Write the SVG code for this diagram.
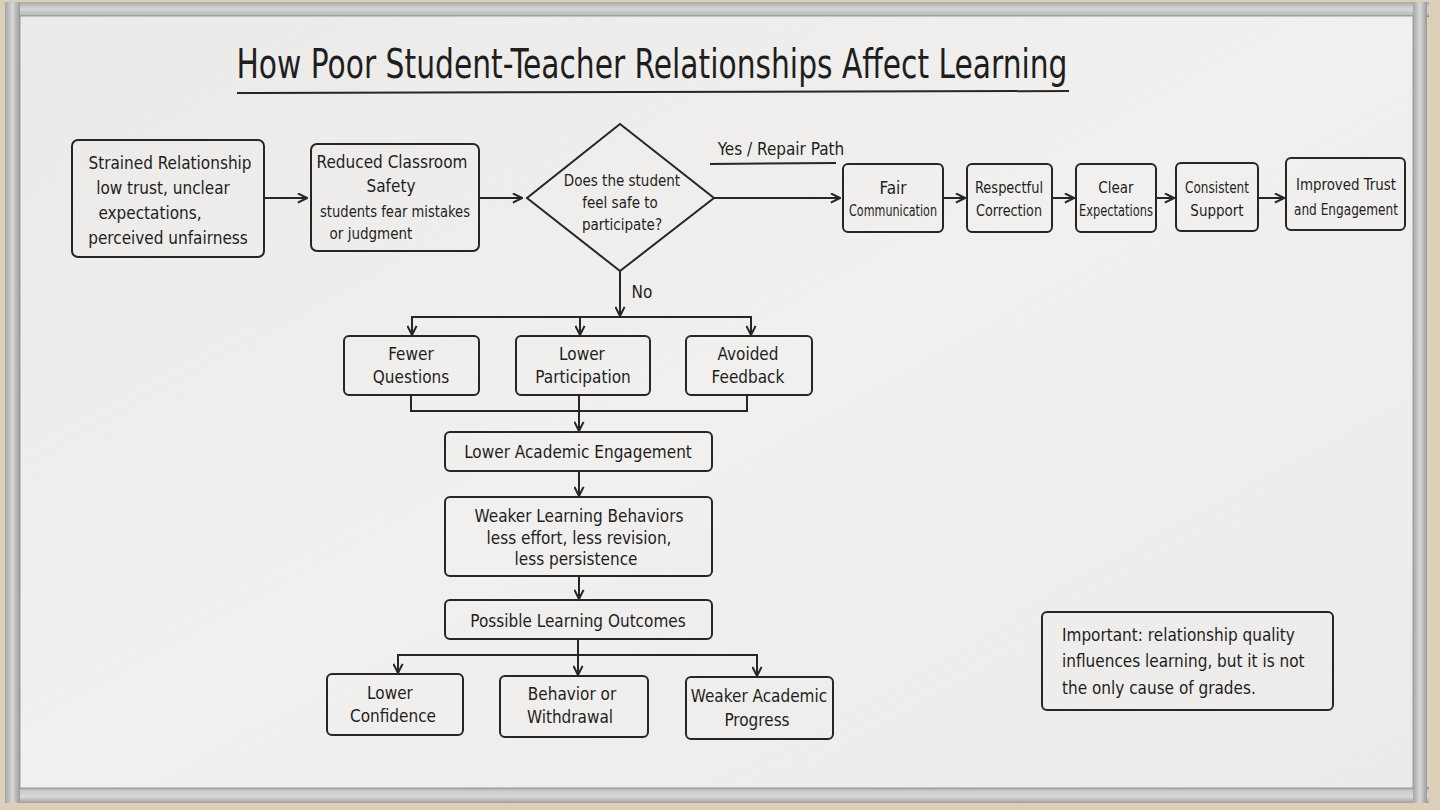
<svg xmlns="http://www.w3.org/2000/svg" width="1440" height="810" viewBox="0 0 1440 810">
<defs>
<marker id="ah2" viewBox="0 0 12 12" refX="11" refY="6" markerWidth="11" markerHeight="11" orient="auto" markerUnits="userSpaceOnUse">
<path d="M1,1 L11,6 L1,11" fill="none" stroke="#262626" stroke-width="2.2"/>
</marker>
<linearGradient id="frameH" x1="0" y1="0" x2="0" y2="1">
<stop offset="0" stop-color="#a8a8a8"/><stop offset="0.45" stop-color="#d6d6d6"/><stop offset="0.85" stop-color="#bdbdbd"/><stop offset="1" stop-color="#7a7a7a"/>
</linearGradient>
<linearGradient id="frameB" x1="0" y1="0" x2="0" y2="1">
<stop offset="0" stop-color="#8a8a8a"/><stop offset="0.2" stop-color="#c8c8c8"/><stop offset="0.6" stop-color="#d9d9d9"/><stop offset="1" stop-color="#a0a0a0"/>
</linearGradient>
<linearGradient id="frameV" x1="0" y1="0" x2="1" y2="0">
<stop offset="0" stop-color="#a5a5a5"/><stop offset="0.5" stop-color="#d8d8d8"/><stop offset="1" stop-color="#9a9a9a"/>
</linearGradient>
<linearGradient id="board" x1="0" y1="0" x2="1" y2="1">
<stop offset="0" stop-color="#ebeae8"/><stop offset="0.5" stop-color="#f1f0ee"/><stop offset="1" stop-color="#ecebe9"/>
</linearGradient>
</defs>
<style>
.box{fill:none;stroke:#262626;stroke-width:2}
.ln{fill:none;stroke:#262626;stroke-width:2}
text{font-family:"DejaVu Sans Condensed","Liberation Sans Narrow","Liberation Sans",sans-serif;fill:#1e1e1e;text-anchor:middle}
.t{font-size:17px}
.s{font-size:15px}
.l{text-anchor:start}
</style>
<rect width="1440" height="810" fill="#dccfb9"/>
<rect x="5" y="2" width="1424" height="15" fill="url(#frameH)"/>
<rect x="5" y="787" width="1424" height="16" fill="url(#frameB)"/>
<rect x="5" y="2" width="15" height="801" fill="url(#frameV)"/>
<rect x="1413" y="2" width="14" height="801" fill="url(#frameV)"/>
<rect x="20" y="16" width="1393" height="772" fill="url(#board)" stroke="#9a9a9a" stroke-width="1"/>

<g id="title">
<text x="652" y="78" font-size="40" textLength="831" lengthAdjust="spacingAndGlyphs">How Poor Student-Teacher Relationships Affect Learning</text>
<path class="ln" d="M237,93 L1069,91" stroke-width="2.2"/>
</g>

<g id="connectors">
<path class="ln" d="M264,198 L307,198" marker-end="url(#ah2)"/>
<path class="ln" d="M479,198 L522,198" marker-end="url(#ah2)"/>
<path class="ln" d="M714,198 L840,198" marker-end="url(#ah2)"/>
<path class="ln" d="M943,198 L965,198" marker-end="url(#ah2)"/>
<path class="ln" d="M1052,198 L1074,198" marker-end="url(#ah2)"/>
<path class="ln" d="M1156,198 L1174,198" marker-end="url(#ah2)"/>
<path class="ln" d="M1258,198 L1284,198" marker-end="url(#ah2)"/>
<path class="ln" d="M620,271 L620,316" marker-end="url(#ah2)"/>
<path class="ln" d="M412,335 L412,317 L751,317 L751,335"/>
<path class="ln" d="M412,318 L412,335" marker-end="url(#ah2)"/>
<path class="ln" d="M580,317 L580,335" marker-end="url(#ah2)"/>
<path class="ln" d="M751,318 L751,335" marker-end="url(#ah2)"/>
<path class="ln" d="M411,395 L411,411 L747,411 L747,396"/>
<path class="ln" d="M579,395 L579,431" marker-end="url(#ah2)"/>
<path class="ln" d="M579,471 L579,496" marker-end="url(#ah2)"/>
<path class="ln" d="M579,576 L579,599" marker-end="url(#ah2)"/>
<path class="ln" d="M578,639 L578,675" marker-end="url(#ah2)"/>
<path class="ln" d="M398,673 L398,655 L757,655 L757,676"/>
<path class="ln" d="M398,656 L398,673" marker-end="url(#ah2)"/>
<path class="ln" d="M757,656 L757,676" marker-end="url(#ah2)"/>
</g>

<g id="yes-label">
<text class="t" x="781" y="155">Yes / Repair Path</text>
<path class="ln" d="M710,164 L836,163"/>
</g>
<g id="no-label">
<text class="t" x="642" y="298">No</text>
</g>

<g id="n-strained">
<rect class="box" x="72" y="140" width="192" height="117" rx="6"/>
<text class="t" x="170" y="169">Strained Relationship</text>
<text class="t" x="163" y="194">low trust, unclear</text>
<text class="t" x="150" y="219">expectations,</text>
<text class="t" x="168" y="244">perceived unfairness</text>
</g>
<g id="n-safety">
<rect class="box" x="311" y="144" width="168" height="107" rx="6"/>
<text class="t" x="392" y="168">Reduced Classroom</text>
<text class="t" x="391" y="192">Safety</text>
<text class="s" x="395" y="217" textLength="150" lengthAdjust="spacingAndGlyphs">students fear mistakes</text>
<text class="s" x="371" y="239">or judgment</text>
</g>
<g id="n-decision">
<polygon class="box" points="620,124 714,198 620,271 527,198"/>
<text class="s" x="622" y="186">Does the student</text>
<text class="s" x="620" y="208">feel safe to</text>
<text class="s" x="622" y="230">participate?</text>
</g>
<g id="n-fair">
<rect class="box" x="843" y="164" width="100" height="68" rx="5"/>
<text class="t" x="893" y="194">Fair</text>
<text class="s" x="893" y="216" textLength="88" lengthAdjust="spacingAndGlyphs">Communication</text>
</g>
<g id="n-respect">
<rect class="box" x="967" y="164" width="85" height="68" rx="5"/>
<text class="s" x="1009" y="193" textLength="68" lengthAdjust="spacingAndGlyphs">Respectful</text>
<text class="s" x="1009" y="216" textLength="66" lengthAdjust="spacingAndGlyphs">Correction</text>
</g>
<g id="n-clear">
<rect class="box" x="1076" y="164" width="80" height="68" rx="5"/>
<text class="s" x="1116" y="193">Clear</text>
<text class="s" x="1116" y="216" textLength="74" lengthAdjust="spacingAndGlyphs">Expectations</text>
</g>
<g id="n-consistent">
<rect class="box" x="1176" y="163" width="82" height="68" rx="5"/>
<text class="s" x="1217" y="193" textLength="64" lengthAdjust="spacingAndGlyphs">Consistent</text>
<text class="s" x="1217" y="216">Support</text>
</g>
<g id="n-improved">
<rect class="box" x="1286" y="158" width="119" height="72" rx="5"/>
<text class="s" x="1346" y="190" textLength="100" lengthAdjust="spacingAndGlyphs">Improved Trust</text>
<text class="s" x="1346" y="215" textLength="104" lengthAdjust="spacingAndGlyphs">and Engagement</text>
</g>
<g id="n-fewer">
<rect class="box" x="344" y="336" width="135" height="59" rx="5"/>
<text class="t" x="411" y="360">Fewer</text>
<text class="t" x="411" y="383">Questions</text>
</g>
<g id="n-lowerpart">
<rect class="box" x="516" y="336" width="134" height="59" rx="5"/>
<text class="t" x="582" y="360">Lower</text>
<text class="t" x="583" y="383">Participation</text>
</g>
<g id="n-avoided">
<rect class="box" x="686" y="336" width="126" height="59" rx="5"/>
<text class="t" x="748" y="360">Avoided</text>
<text class="t" x="748" y="383">Feedback</text>
</g>
<g id="n-engagement">
<rect class="box" x="445" y="432" width="267" height="39" rx="5"/>
<text class="t" x="578" y="458">Lower Academic Engagement</text>
</g>
<g id="n-behaviors">
<rect class="box" x="445" y="497" width="267" height="79" rx="5"/>
<text class="t" x="579" y="522">Weaker Learning Behaviors</text>
<text class="t" x="579" y="544">less effort, less revision,</text>
<text class="t" x="576" y="565">less persistence</text>
</g>
<g id="n-outcomes">
<rect class="box" x="445" y="600" width="267" height="39" rx="5"/>
<text class="t" x="578" y="627">Possible Learning Outcomes</text>
</g>
<g id="n-confidence">
<rect class="box" x="327" y="674" width="136" height="61" rx="5"/>
<text class="t" x="390" y="699">Lower</text>
<text class="t" x="393" y="722">Confidence</text>
</g>
<g id="n-withdrawal">
<rect class="box" x="500" y="676" width="148" height="61" rx="5"/>
<text class="t" x="572" y="700">Behavior or</text>
<text class="t" x="570" y="723">Withdrawal</text>
</g>
<g id="n-progress">
<rect class="box" x="686" y="677" width="147" height="62" rx="5"/>
<text class="t" x="759" y="702">Weaker Academic</text>
<text class="t" x="757" y="726">Progress</text>
</g>
<g id="n-note">
<rect class="box" x="1042" y="612" width="291" height="98" rx="5"/>
<text class="t l" x="1062" y="641">Important: relationship quality</text>
<text class="t l" x="1062" y="667">influences learning, but it is not</text>
<text class="t l" x="1062" y="694">the only cause of grades.</text>
</g>
</svg>
